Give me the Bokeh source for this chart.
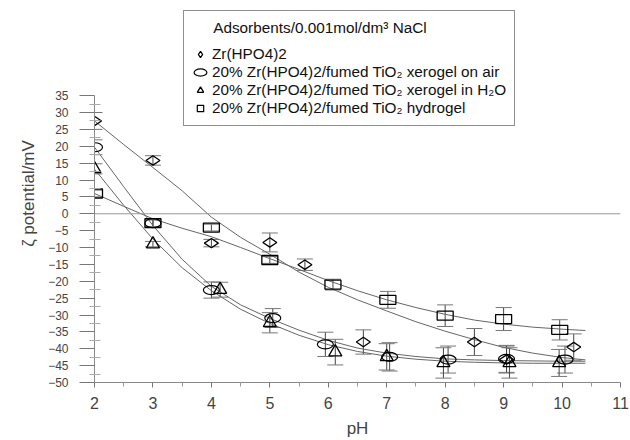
import numpy as np
from bokeh.plotting import figure
from bokeh.models import (ColumnDataSource, Whisker, TeeHead, Range1d, FixedTicker,
                          Legend, LegendItem, Span)
from bokeh.embed import file_html
from bokeh.resources import INLINE

# ---------------- data ----------------
zr_ph = [2.0, 3.0, 4.0, 5.0, 5.6, 6.6, 8.5, 9.05, 10.2]
zr_zeta = [27.5, 15.8, -8.7, -8.5, -15.1, -38.0, -38.0, -43.2, -39.5]
zr_err = [2.5, 1.4, 1.1, 2.8, 1.7, 3.6, 4.0, 4.0, 3.9]

air_ph = [2.0, 3.0, 4.0, 5.05, 5.95, 7.05, 8.05, 9.05, 10.05]
air_zeta = [19.7, -2.8, -22.6, -30.9, -38.7, -42.4, -43.2, -43.0, -43.2]
air_err = [2.2, 1.0, 2.4, 2.8, 3.6, 4.2, 4.0, 4.0, 4.0]

h2o_ph = [2.0, 3.0, 4.15, 5.0, 6.12, 7.0, 7.97, 9.1, 9.95]
h2o_zeta = [13.3, -9.0, -22.5, -32.3, -41.0, -42.4, -44.2, -44.2, -44.2]
h2o_err = [1.5, 0.8, 2.2, 3.0, 3.8, 3.9, 4.5, 4.5, 4.0]

hyd_ph = [2.0, 3.0, 4.0, 5.0, 6.08, 7.02, 8.0, 9.0, 9.96]
hyd_zeta = [6.0, -2.8, -4.1, -13.7, -21.0, -25.5, -30.2, -31.2, -34.4]
hyd_err = [1.0, 1.0, 1.0, 1.0, 1.6, 2.5, 3.2, 3.4, 3.0]

# fitted trend curves
curve_ph = [2.0, 2.5, 3.0, 3.5, 4.0, 4.5, 5.0, 5.5, 6.0, 6.5, 7.0, 7.5, 8.0, 8.5, 9.0, 9.5, 10.0, 10.4]
zr_curve = [27.5, 20.5, 13.7, 6.8, -1.0, -7.0, -12.0, -17.3, -21.8, -25.5, -28.8, -32.0, -34.8, -37.3, -39.6, -41.3, -42.6, -43.3]
air_curve = [19.7, 8.0, -3.5, -13.5, -21.5, -27.0, -31.0, -34.5, -37.5, -39.8, -41.3, -42.3, -43.0, -43.3, -43.5, -43.6, -43.7, -43.7]
h2o_curve = [13.2, 2.5, -7.5, -16.0, -22.8, -28.3, -32.5, -36.0, -38.8, -40.8, -42.2, -43.1, -43.7, -44.0, -44.2, -44.3, -44.3, -44.3]
hyd_curve = [6.0, 2.2, -1.5, -4.3, -6.8, -10.0, -13.3, -16.5, -19.8, -22.8, -25.5, -27.8, -29.8, -31.5, -32.7, -33.6, -34.2, -34.6]

x_ticks = [2, 3, 4, 5, 6, 7, 8, 9, 10, 11]
x_minor = [2.5, 3.5, 4.5, 5.5, 6.5, 7.5, 8.5, 9.5, 10.5]
y_ticks = [35, 30, 25, 20, 15, 10, 5, 0, -5, -10, -15, -20, -25, -30, -35, -40, -45, -50]
y_minor = [32.5, 27.5, 22.5, 17.5, 12.5, 7.5, 2.5, -2.5, -7.5, -12.5, -17.5, -22.5, -27.5,
           -32.5, -37.5, -42.5, -47.5]

legend_title = "Adsorbents/0.001mol/dm³ NaCl"
labels = ["Zr(HPO4)2",
          "20% Zr(HPO4)2/fumed TiO₂ xerogel on air",
          "20% Zr(HPO4)2/fumed TiO₂ xerogel in H₂O",
          "20% Zr(HPO4)2/fumed TiO₂ hydrogel"]

FONT = "Liberation Sans"

p = figure(width=630, height=440, output_backend="svg", toolbar_location=None,
           x_range=Range1d(2, 11), y_range=Range1d(-50, 62.0),
           min_border_left=94, min_border_right=10, min_border_top=4, min_border_bottom=56)
p.outline_line_color = None
p.grid.visible = False
p.background_fill_color = "white"

# zero line
p.add_layout(Span(location=0, dimension="width", line_color="#999999", line_width=1))

# curves
for cy in (zr_curve, air_curve, h2o_curve, hyd_curve):
    p.line(curve_ph, cy, line_color="#666666", line_width=1)

# error bars
for xs, ys, es in ((zr_ph, zr_zeta, zr_err), (air_ph, air_zeta, air_err),
                   (h2o_ph, h2o_zeta, h2o_err), (hyd_ph, hyd_zeta, hyd_err)):
    src = ColumnDataSource(dict(x=xs, up=[y + e for y, e in zip(ys, es)],
                                lo=[y - e for y, e in zip(ys, es)]))
    w = Whisker(source=src, base="x", upper="up", lower="lo",
                line_color="#444444", line_width=1,
                upper_head=TeeHead(size=16, line_color="#777777", line_width=1),
                lower_head=TeeHead(size=16, line_color="#777777", line_width=1))
    p.add_layout(w)

r_zr = p.scatter(zr_ph, zr_zeta, marker="diamond", size=14, angle=np.pi / 2,
                 fill_color=None, line_color="black", line_width=1.3)
r_air = p.ellipse(air_ph, air_zeta, width=16, height=9, width_units="screen",
                  height_units="screen", fill_color=None, line_color="black", line_width=1.2)
r_h2o = p.scatter(h2o_ph, h2o_zeta, marker="triangle", size=13,
                  fill_color=None, line_color="black", line_width=1.3)
r_hyd = p.rect(hyd_ph, hyd_zeta, width=16, height=9, width_units="screen",
               height_units="screen", fill_color=None, line_color="black", line_width=1.3)

# legend helper for the square symbol (NaN position: not drawn in the plot)
r_sq = p.scatter([float("nan")], [float("nan")], marker="square", size=8,
                 fill_color=None, line_color="black", line_width=1.2)

NB = "\u00a0" * 5
legend = Legend(items=[LegendItem(label=labels[0], renderers=[r_zr]),
                       LegendItem(label=labels[1], renderers=[r_air]),
                       LegendItem(label=labels[2], renderers=[r_h2o]),
                       LegendItem(label=labels[3], renderers=[r_sq])],
                title=NB + legend_title, title_standoff=8,
                title_text_font=FONT, title_text_font_size="15.3px",
                title_text_font_style="normal", title_text_color="#111111",
                location=(89, 256), margin=0, padding=8, spacing=0,
                label_height=18, glyph_height=18, glyph_width=16, label_standoff=4,
                label_text_font=FONT, label_text_font_size="15.3px", label_text_color="#111111",
                border_line_color="#222222", border_line_width=1,
                background_fill_color="white", background_fill_alpha=1)
p.add_layout(legend)

# axes
xa = p.xaxis[0]
xa.ticker = FixedTicker(ticks=x_ticks, minor_ticks=x_minor)
xa.axis_label = "pH"
xa.axis_label_text_font = FONT
xa.axis_label_text_font_size = "17px"
xa.axis_label_text_font_style = "normal"
xa.axis_label_standoff = 7
xa.major_label_text_font = FONT
xa.major_label_text_font_size = "16px"
xa.major_label_standoff = 9
xa.axis_line_color = "#888888"
xa.major_tick_line_color = "#777777"
xa.minor_tick_line_color = "#999999"
xa.major_tick_in = 0
xa.major_tick_out = 5
xa.minor_tick_in = 0
xa.minor_tick_out = 4

ya = p.yaxis[0]
ya.ticker = FixedTicker(ticks=y_ticks, minor_ticks=y_minor)
ya.bounds = (-50, 35)
ya.major_label_overrides = {t: str(t).replace("-", "\u2212") for t in y_ticks}
ya.axis_label = "ζ potential/mV"
ya.axis_label_text_font = FONT
ya.axis_label_text_font_size = "17px"
ya.axis_label_text_font_style = "normal"
ya.axis_label_standoff = 7
ya.major_label_text_font = FONT
ya.major_label_text_font_size = "12px"
ya.major_label_standoff = 11
ya.axis_line_color = "#888888"
ya.major_tick_line_color = "#777777"
ya.minor_tick_line_color = "#aaaaaa"
ya.major_tick_in = 0
ya.major_tick_out = 15
ya.minor_tick_in = 6
ya.minor_tick_out = 5

open("out.html", "w").write(file_html(p, INLINE))
